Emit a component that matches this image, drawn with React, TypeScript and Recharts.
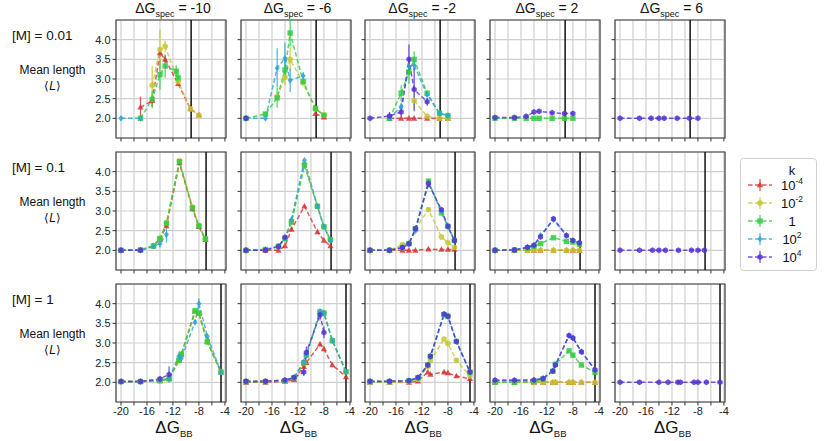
import React from 'react';
import { LineChart, Line, XAxis, YAxis, CartesianGrid, ReferenceLine, ReferenceArea, ErrorBar } from 'recharts';

const FONT = '"Liberation Sans", Arial, Helvetica, sans-serif';
const _ = null;

// k values (series)
const K_BASE = ['10', '10', '1', '10', '10'];
const K_EXP = ['-4', '-2', '', '2', '4'];
const COLORS = ['#d83232', '#c6c630', '#2ecc3e', '#2ba6d8', '#5530d4'];
const MARKERS = ['triangle', 'circle', 'square', 'diamond', 'hexagon'];

// panel headers
const SPEC_VALUES = ['-10', '-6', '-2', '2', '6'];
const M_VALUES = ['0.01', '0.1', '1'];
const CUTOFF_X = [-9.2, -6.9, -4.6];

// axes
const X_TICKS = [-20, -18, -16, -14, -12, -10, -8, -6, -4];
const Y_TICKS = [2.0, 2.5, 3.0, 3.5, 4.0];
const X_DOMAIN: [number, number] = [-20.77, -3.83];
const Y_DOMAIN: [number, number] = [1.5, 4.5];

// x positions (ΔG_BB) per row
const X_ROW1 = [-20, -17, -15.2, -14, -13.2, -11.5, -11.2, -9.3, -8];
const X_ROW2 = [-20, -17, -15, -14, -13, -11, -9, -8, -7];
const X_ROW3 = [-20, -17, -14, -12.6, -11.1, -10.7, -8.6, -8, -6.7, -4.6];

// ---- Row 1 : [M] = 0.01 ----
const R1C1_Y = [
  [_, 2.28, 2.45, 3.66, 3.5, _, 2.88, 2.24, 2.08],
  [_, _, 2.84, 3.75, 3.83, _, 2.93, 2.24, 2.08],
  [_, 2.0, 2.48, 3.11, 3.33, 3.2, 3.03, _, _],
  [2.0, 2.0, _, _, _, _, _, _, _],
  [_, _, _, _, _, _, _, _, _],
];
const R1C1_E = [
  [_, 0.27, 0.15, 0.1, 0.1, _, 0.05, _, _],
  [_, _, 0.5, 0.5, 0.15, _, 0.05, _, _],
  [_, _, 0.22, 0.38, 0.3, 0.15, 0.1, _, _],
  [_, _, _, _, _, _, _, _, _],
  [_, _, _, _, _, _, _, _, _],
];
const R1C2_Y = [
  [_, _, _, _, _, _, _, 2.12, 2.03],
  [_, _, 2.55, 3.05, 3.5, _, 2.9, 2.24, 2.08],
  [2.0, 2.11, 2.52, 3.23, 4.17, _, 2.94, 2.25, 2.08],
  [2.0, 2.0, 3.28, 3.53, 2.97, _, 3.08, _, _],
  [2.0, _, _, _, _, _, _, _, _],
];
const R1C2_E = [
  [_, _, _, _, _, _, _, _, _],
  [_, _, _, 0.2, 0.3, _, 0.05, _, _],
  [_, 0.05, 0.25, 0.25, 0.35, _, 0.05, _, _],
  [_, _, 0.5, 0.4, 0.3, _, 0.1, _, _],
  [_, _, _, _, _, _, _, _, _],
];
const R1C3_Y = [
  [_, 2.0, 2.0, 2.0, 2.0, _, 2.0, 2.0, 2.0],
  [_, _, _, _, 2.45, _, 2.05, 2.0, 2.0],
  [_, 2.0, 2.64, 3.18, 3.5, _, 2.64, 2.13, 2.07],
  [_, 2.0, 2.3, 3.32, 3.35, _, 2.6, 2.13, 2.07],
  [2.0, 2.06, 2.16, 3.5, 2.73, _, 2.42, _, _],
];
const R1C3_E = [
  [_, _, _, _, _, _, _, _, _],
  [_, _, _, _, 0.2, _, _, _, _],
  [_, _, 0.2, 0.3, 0.2, _, 0.05, _, _],
  [_, _, 0.1, 0.2, 0.15, _, 0.05, _, _],
  [_, 0.1, 0.1, 0.38, 0.55, _, 0.1, _, _],
];
const R1C4_Y = [
  [_, _, _, _, _, _, _, _, _],
  [_, _, _, _, _, _, _, _, _],
  [2.0, 2.0, 2.0, 2.0, 2.0, _, 2.0, 2.0, 2.0],
  [_, _, _, _, _, _, _, _, _],
  [2.02, 2.02, 2.05, 2.16, 2.18, _, 2.14, 2.12, 2.12],
];
const R1C5_Y = [
  [_, _, _, _, _, _, _, _, _],
  [_, _, _, _, _, _, _, _, _],
  [_, _, _, _, _, _, _, _, _],
  [_, _, _, _, _, _, _, _, _],
  [2.0, 2.0, 2.0, 2.0, 2.0, _, 2.0, 2.0, 2.0],
];

// ---- Row 2 : [M] = 0.1 ----
const R2C1_Y = [
  [2.0, 2.01, 2.11, 2.28, 2.62, 4.22, 3.05, 2.6, 2.27],
  [2.0, 2.01, 2.11, 2.3, 2.7, 4.28, 3.1, 2.63, 2.29],
  [2.0, 2.01, 2.11, 2.3, 2.69, 4.25, 3.08, 2.62, 2.29],
  [2.0, 2.0, 2.1, 2.17, 2.4, _, _, _, _],
  [2.0, 2.0, _, _, _, _, _, _, _],
];
const R2C1_E = [
  [_, _, _, _, _, _, _, _, _],
  [_, _, _, _, _, _, _, _, _],
  [_, _, _, _, 0.05, 0.05, _, _, _],
  [_, _, 0.03, 0.1, 0.2, _, _, _, _],
  [_, _, _, _, _, _, _, _, _],
];
const R2C2_Y = [
  [2.0, 2.0, 2.0, 2.11, 2.53, 3.12, 2.47, 2.25, 2.11],
  [2.0, 2.02, 2.1, 2.3, 2.72, 4.2, 3.12, 2.6, 2.27],
  [2.0, 2.02, 2.1, 2.3, 2.72, 4.16, 3.12, 2.6, 2.27],
  [2.0, 2.02, 2.1, 2.3, 2.78, 4.29, 3.12, 2.6, 2.25],
  [2.0, 2.0, 2.1, 2.33, _, _, _, _, _],
];
const R2C3_Y = [
  [2.0, 2.0, 2.0, 2.0, 2.0, 2.03, 2.02, 2.02, 2.02],
  [2.0, 2.0, 2.15, 2.17, 2.55, 3.04, 2.34, 2.19, 2.08],
  [2.0, 2.0, 2.07, 2.17, 2.55, 3.76, 2.95, 2.61, 2.25],
  [2.0, 2.0, 2.07, 2.17, 2.5, 3.72, 3.0, 2.6, 2.25],
  [2.0, 2.0, 2.07, 2.17, 2.55, 3.7, 3.03, 2.61, 2.25],
];
const R2C3_E = [
  [_, _, _, _, _, _, _, _, _],
  [_, _, _, _, _, 0.05, _, _, _],
  [_, _, _, _, _, 0.05, _, _, _],
  [_, _, _, _, _, _, _, _, _],
  [_, _, _, 0.05, 0.05, 0.1, 0.05, _, _],
];
const R2C4_Y = [
  [2.0, 2.0, 2.0, 2.0, 2.0, 2.0, 2.0, 2.0, 2.0],
  [2.0, 2.0, 2.0, 2.0, 2.0, 2.0, 2.0, 2.0, 2.0],
  [2.0, 2.01, 2.06, 2.1, 2.17, 2.32, 2.23, 2.21, 2.15],
  [2.0, 2.01, 2.08, 2.13, 2.38, 2.78, 2.38, 2.25, 2.19],
  [2.0, 2.01, 2.08, 2.13, 2.34, 2.8, 2.38, 2.25, 2.19],
];
const R2C5_Y = [
  [_, _, _, _, _, _, _, _, _],
  [_, _, _, _, _, _, _, _, _],
  [_, _, _, _, _, _, _, _, _],
  [_, _, _, _, _, _, _, _, _],
  [2.0, 2.0, 2.0, 2.0, 2.0, 2.0, 2.0, 2.0, 2.0],
];

// ---- Row 3 : [M] = 1 ----
const R3C1_Y = [
  [2.02, 2.02, 2.04, 2.09, 2.55, 2.7, 3.8, 3.75, 3.03, 2.26],
  [2.02, 2.02, 2.04, 2.09, 2.55, 2.7, 3.8, 3.75, 3.03, 2.26],
  [2.02, 2.02, 2.04, 2.09, 2.56, 2.72, 3.82, 3.76, 3.03, 2.26],
  [2.02, 2.02, 2.06, 2.1, 2.66, 2.61, 3.53, 4.0, 3.17, 2.26],
  [2.02, 2.02, 2.09, 2.2, _, _, _, _, _, _],
];
const R3C1_E = [
  [_, _, _, _, _, _, _, _, _, _],
  [_, _, _, _, _, _, _, _, _, _],
  [_, _, _, _, 0.05, 0.05, _, _, _, _],
  [_, _, _, _, 0.1, 0.05, 0.05, 0.13, 0.05, _],
  [_, _, 0.03, 0.2, _, _, _, _, _, _],
];
const R3C2_Y = [
  [2.0, 2.0, 2.02, 2.07, 2.4, 2.5, 2.97, 2.85, 2.44, 2.14],
  [2.02, 2.02, 2.04, 2.12, 2.5, 2.69, 3.79, 3.76, 3.06, 2.27],
  [2.02, 2.02, 2.04, 2.12, 2.5, 2.69, 3.79, 3.76, 3.06, 2.27],
  [2.02, 2.02, 2.04, 2.12, 2.52, 2.7, 3.8, 3.76, 3.06, 2.27],
  [2.03, 2.03, 2.06, 2.12, 2.26, 2.76, 3.72, 3.27, _, _],
];
const R3C2_E = [
  [_, _, _, _, _, _, _, _, _, _],
  [_, _, _, _, _, _, _, _, _, _],
  [_, _, _, _, _, _, _, _, _, _],
  [_, _, _, _, _, _, _, _, _, _],
  [_, _, _, 0.03, 0.1, 0.15, 0.15, 0.15, _, _],
];
const R3C3_Y = [
  [2.0, 2.0, 2.0, 2.03, 2.26, 2.2, 2.26, 2.24, 2.16, 2.09],
  [2.0, 2.0, 2.02, 2.08, 2.4, 2.55, 3.1, 2.99, 2.56, 2.16],
  [2.02, 2.02, 2.04, 2.12, 2.44, 2.66, 3.72, 3.68, 3.04, 2.26],
  [2.02, 2.02, 2.04, 2.12, 2.44, 2.66, 3.72, 3.68, 3.04, 2.26],
  [2.03, 2.03, 2.04, 2.12, 2.44, 2.66, 3.74, 3.68, 3.04, 2.26],
];
const R3C4_Y = [
  [2.0, 2.0, 2.0, 2.0, 2.0, 2.0, 2.0, 2.0, 2.0, 2.0],
  [2.0, 2.0, 2.0, 2.0, 2.0, 2.0, 2.0, 2.0, 2.0, 2.0],
  [2.0, 2.0, 2.02, 2.08, 2.28, 2.46, 2.8, 2.69, 2.44, 2.25],
  [2.05, 2.05, 2.06, 2.1, 2.29, 2.44, 3.19, 3.13, 2.78, 2.32],
  [2.05, 2.05, 2.06, 2.1, 2.29, 2.44, 3.19, 3.13, 2.78, 2.32],
];
const R3C5_Y = [
  [_, _, _, _, _, _, _, _, _, _],
  [_, _, _, _, _, _, _, _, _, _],
  [_, _, _, _, _, _, _, _, _, _],
  [_, _, _, _, _, _, _, _, _, _],
  [2.0, 2.0, 2.0, 2.0, 2.0, 2.0, 2.0, 2.0, 2.0, 2.0],
];

const ROW_X = [X_ROW1, X_ROW2, X_ROW3];
const PANEL_Y = [
  [R1C1_Y, R1C2_Y, R1C3_Y, R1C4_Y, R1C5_Y],
  [R2C1_Y, R2C2_Y, R2C3_Y, R2C4_Y, R2C5_Y],
  [R3C1_Y, R3C2_Y, R3C3_Y, R3C4_Y, R3C5_Y],
];
const PANEL_E: any[][] = [
  [R1C1_E, R1C2_E, R1C3_E, null, null],
  [R2C1_E, null, R2C3_E, null, null],
  [R3C1_E, R3C2_E, null, null, null],
];

// layout
const PLOT_W = 110;
const PLOT_H = 118;
const Y_AXIS_W = 30;
const X_AXIS_H = 22;
const M_TOP = 4;
const M_RIGHT = 4;
const COL_LEFT = [116, 240.5, 365.2, 489.9, 614.6];
const ROW_TOP = [20, 152, 283.5];

function shape(kind: string, cx: number, cy: number, color: string) {
  const fill = color;
  switch (kind) {
    case 'triangle':
      return <polygon points={`${cx},${cy - 3.4} ${cx - 3.1},${cy + 2.3} ${cx + 3.1},${cy + 2.3}`} fill={fill} />;
    case 'circle':
      return <circle cx={cx} cy={cy} r={2.8} fill={fill} />;
    case 'square':
      return <rect x={cx - 2.7} y={cy - 2.7} width={5.4} height={5.4} fill={fill} />;
    case 'diamond':
      return <polygon points={`${cx},${cy - 3.3} ${cx + 2.5},${cy} ${cx},${cy + 3.3} ${cx - 2.5},${cy}`} fill={fill} />;
    default: {
      const pts: string[] = [];
      for (let i = 0; i < 6; i++) {
        const a = (Math.PI / 3) * i + Math.PI / 6;
        pts.push(`${cx + 3 * Math.cos(a)},${cy + 3 * Math.sin(a)}`);
      }
      return <polygon points={pts.join(' ')} fill={fill} />;
    }
  }
}

const makeDot = (s: number) => (props: any) => {
  const { cx, cy, index, value } = props;
  if (cx == null || cy == null || value == null || Number.isNaN(cy)) return <g key={`n${index}`} />;
  return (
    <g key={`d${index}`} opacity={0.85}>
      {shape(MARKERS[s], cx, cy, COLORS[s])}
    </g>
  );
};

function Panel({ r, c }: { r: number; c: number }) {
  const xs = ROW_X[r];
  const ys = PANEL_Y[r][c];
  const es = PANEL_E[r][c];
  const data = xs.map((x, i) => {
    const row: any = { x };
    for (let s = 0; s < 5; s++) {
      const v = ys[s][i];
      row[`s${s}`] = v;
      const e = es && es[s] ? es[s][i] : null;
      row[`e${s}`] = v == null ? null : e;
    }
    return row;
  });
  const tickStyle = { fontSize: 11, fill: '#222', fontFamily: FONT };
  return (
    <div style={{ position: 'absolute', left: COL_LEFT[c] - Y_AXIS_W, top: ROW_TOP[r] - M_TOP }}>
      <LineChart
        width={Y_AXIS_W + PLOT_W + M_RIGHT}
        height={M_TOP + PLOT_H + X_AXIS_H}
        data={data}
        margin={{ top: M_TOP, right: M_RIGHT, bottom: 0, left: 0 }}
      >
        <CartesianGrid stroke="#cfcfcf" strokeWidth={1.2} />
        <XAxis
          dataKey="x"
          type="number"
          domain={X_DOMAIN}
          ticks={X_TICKS}
          interval={0}
          allowDataOverflow
          height={X_AXIS_H}
          axisLine={false}
          tickSize={3.5}
          tickLine={{ stroke: '#333' }}
          tick={tickStyle}
          tickFormatter={(v: number) => (r === 2 && v % 4 === 0 ? String(v) : '')}
        />
        <YAxis
          type="number"
          domain={Y_DOMAIN}
          ticks={Y_TICKS}
          interval={0}
          allowDataOverflow
          width={Y_AXIS_W}
          axisLine={false}
          tickSize={3.5}
          tickLine={{ stroke: '#333' }}
          tick={tickStyle}
          tickFormatter={(v: number) => (c === 0 ? v.toFixed(1) : '')}
        />
        <ReferenceArea
          x1={X_DOMAIN[0]}
          x2={X_DOMAIN[1]}
          y1={Y_DOMAIN[0]}
          y2={Y_DOMAIN[1]}
          fill="none"
          stroke="#3a3a3a"
          strokeWidth={1.1}
          ifOverflow="visible"
        />
        <ReferenceLine x={CUTOFF_X[r]} stroke="#111" strokeWidth={1.5} />
        {[0, 1, 2, 3, 4].map((s) => (
          <Line
            key={s}
            type="linear"
            dataKey={`s${s}`}
            stroke={COLORS[s]}
            strokeOpacity={0.8}
            strokeWidth={1.5}
            strokeDasharray="4.5 2.5"
            connectNulls
            dot={makeDot(s)}
            activeDot={false}
            isAnimationActive={false}
          >
            {es && es[s] ? (
              <ErrorBar dataKey={`e${s}`} width={0} stroke={COLORS[s]} strokeWidth={1.3} strokeOpacity={0.8} direction="y" />
            ) : null}
          </Line>
        ))}
      </LineChart>
    </div>
  );
}

function Overlay() {
  const colCenter = (c: number) => COL_LEFT[c] + PLOT_W / 2;
  const rowOffset = (r: number) => ROW_TOP[r] - ROW_TOP[0];
  const legendRows = [185, 203, 221, 239, 257];
  return (
    <svg width={831} height={441} style={{ position: 'absolute', left: 0, top: 0, pointerEvents: 'none', fontFamily: FONT }}>
      {SPEC_VALUES.map((v, c) => (
        <text key={`t${c}`} x={colCenter(c) + 2} y={13} textAnchor="middle" fontSize={14} fill="#111">
          ΔG
          <tspan fontSize={9} dy={3.5}>spec</tspan>
          <tspan dy={-3.5}>{'\u00a0= ' + v}</tspan>
        </text>
      ))}
      {M_VALUES.map((m, r) => (
        <g key={`r${r}`}>
          <text x={12} y={40 + rowOffset(r)} fontSize={13.5} fill="#111">{`[M] = ${m}`}</text>
          <text x={52.5} y={74 + rowOffset(r)} fontSize={12} fill="#111" textAnchor="middle">Mean length</text>
          <text x={52.5} y={90 + rowOffset(r)} fontSize={12} fill="#111" textAnchor="middle">
            ⟨<tspan fontStyle="italic">L</tspan>⟩
          </text>
        </g>
      ))}
      {SPEC_VALUES.map((v, c) => (
        <text key={`x${c}`} x={colCenter(c) + 3} y={433} textAnchor="middle" fontSize={17} fill="#111">
          ΔG
          <tspan fontSize={9.5} dy={3.5}>BB</tspan>
        </text>
      ))}
      <rect x={740.5} y={158.5} width={76} height={112} rx={3} fill="#fff" stroke="#d0d0d0" strokeWidth={1} />
      <text x={792} y={175} textAnchor="middle" fontSize={13} fill="#111">k</text>
      {legendRows.map((y, s) => (
        <g key={`l${s}`}>
          <line x1={748} x2={772} y1={y} y2={y} stroke={COLORS[s]} strokeWidth={1.5} strokeDasharray="4.5 2.5" strokeOpacity={0.8} />
          <line x1={760} x2={760} y1={y - 6} y2={y + 6} stroke={COLORS[s]} strokeWidth={1.3} strokeOpacity={0.8} />
          <g opacity={0.85}>{shape(MARKERS[s], 760, y, COLORS[s])}</g>
          <text x={792} y={y + 5} textAnchor="middle" fontSize={13} fill="#111">
            {K_BASE[s]}
            {K_EXP[s] ? (
              <tspan fontSize={8.5} dy={-6}>{K_EXP[s]}</tspan>
            ) : null}
          </text>
        </g>
      ))}
    </svg>
  );
}

export default function App() {
  const panels: JSX.Element[] = [];
  for (let r = 0; r < 3; r++) {
    for (let c = 0; c < 5; c++) {
      panels.push(<Panel key={`${r}-${c}`} r={r} c={c} />);
    }
  }
  return (
    <div style={{ position: 'absolute', left: 0, top: 0, width: 831, height: 441, background: '#fff', fontFamily: FONT }}>
      {panels}
      <Overlay />
    </div>
  );
}
